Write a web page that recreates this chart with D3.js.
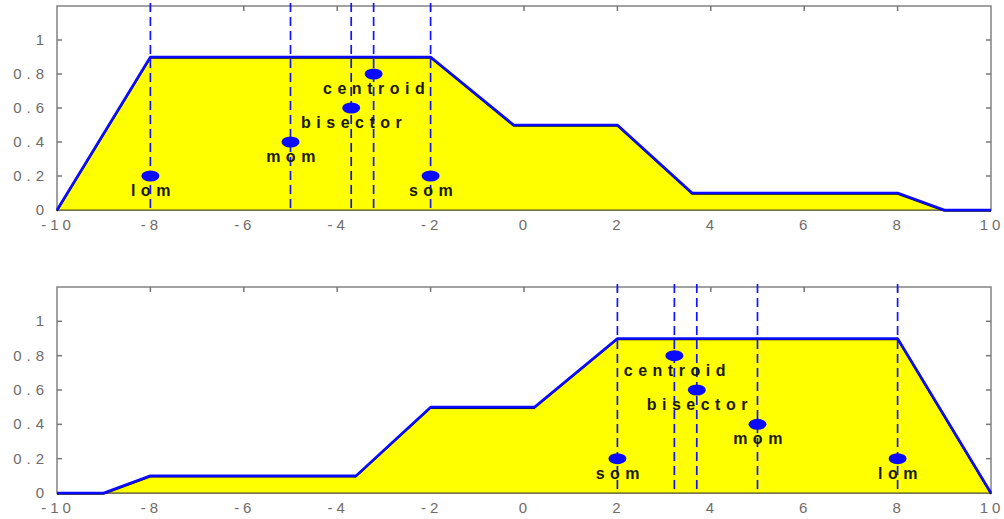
<!DOCTYPE html>
<html>
<head>
<meta charset="utf-8">
<script src="https://cdn.jsdelivr.net/npm/d3@7"></script>
<style>
  body { margin: 0; background: #fff; }
  svg { display: block; }
</style>
</head>
<body>
<div id="chart"></div>
<script>
// membership function (upper panel) and its mirror (lower panel)
const xTop = [-10, -8, -2, -0.22, 2, 3.6, 8, 9, 10];
const muTop = [0, 0.9, 0.9, 0.5, 0.5, 0.1, 0.1, 0, 0];
const xBottom = [-10, -9, -8, -3.6, -2, 0.22, 2, 8, 10];
const muBottom = [0, 0, 0.1, 0.1, 0.5, 0.5, 0.9, 0.9, 0];

// defuzzification results
const methods = ["centroid", "bisector", "mom", "som", "lom"];
const markerHeights = [0.8, 0.6, 0.4, 0.2, 0.2];
const defuzzTop = [-3.22, -3.7, -5, -2, -8];
const defuzzBottom = [3.22, 3.7, 5, 2, 8];

const xTicks = [-10, -8, -6, -4, -2, 0, 2, 4, 6, 8, 10];
const yTicks = [0, 0.2, 0.4, 0.6, 0.8, 1];

const width = 1004, height = 519;
const left = 57, right = 991;

const svg = d3.select("#chart").append("svg")
  .attr("width", width)
  .attr("height", height);

const panels = [
  { xs: xTop, mu: muTop, dz: defuzzTop, top: 6, bottom: 210 },
  { xs: xBottom, mu: muBottom, dz: defuzzBottom, top: 287, bottom: 493 }
];

const x = d3.scaleLinear().domain([-10, 10]).range([left, right]);
const tickFont = "Liberation Sans, Arial, sans-serif";

panels.forEach(p => {
  const y = d3.scaleLinear().domain([0, 1.2]).range([p.bottom, p.top]);
  const g = svg.append("g");
  const pts = p.xs.map((v, i) => [v, p.mu[i]]);

  // box and inside ticks
  g.append("rect")
    .attr("x", left).attr("y", p.top)
    .attr("width", right - left).attr("height", p.bottom - p.top)
    .attr("fill", "none")
    .attr("stroke", "#8a8a8a")
    .attr("stroke-width", 1.6);

  g.selectAll(null).data(xTicks.slice(1, -1)).enter().append("line")
    .attr("x1", d => x(d)).attr("x2", d => x(d))
    .attr("y1", p.top).attr("y2", p.top + 5)
    .attr("stroke", "#777").attr("stroke-width", 1.5);

  [left, right].forEach((sx, k) => {
    g.selectAll(null).data(yTicks.slice(1)).enter().append("line")
      .attr("x1", sx).attr("x2", k === 0 ? sx + 5 : sx - 5)
      .attr("y1", d => y(d)).attr("y2", d => y(d))
      .attr("stroke", "#777").attr("stroke-width", 1.5);
  });

  // filled area
  g.append("path")
    .datum(pts)
    .attr("d", d3.area().x(d => x(d[0])).y0(y(0)).y1(d => y(d[1])))
    .attr("fill", "#ffff00")
    .attr("stroke", "#4a4a20")
    .attr("stroke-width", 1.2);

  // dark edge under the blue curve
  g.append("path")
    .datum(pts)
    .attr("transform", "translate(0,1)")
    .attr("d", d3.line().x(d => x(d[0])).y(d => y(d[1])))
    .attr("fill", "none")
    .attr("stroke", "#111")
    .attr("stroke-width", 1.5);

  g.append("path")
    .datum(pts)
    .attr("d", d3.line().x(d => x(d[0])).y(d => y(d[1])))
    .attr("fill", "none")
    .attr("stroke", "#0a0aff")
    .attr("stroke-width", 2.6)
    .attr("stroke-linejoin", "round");

  // tick labels
  g.selectAll(null).data(xTicks).enter().append("text")
    .attr("x", d => x(d) + 1)
    .attr("y", p.bottom + 20)
    .attr("text-anchor", "middle")
    .attr("font-family", tickFont)
    .attr("font-size", 15)
    .attr("letter-spacing", 4)
    .attr("fill", "#706c68")
    .text(d => d);

  g.selectAll(null).data(yTicks).enter().append("text")
    .attr("x", 49)
    .attr("y", d => y(d) + 5)
    .attr("text-anchor", "end")
    .attr("font-family", tickFont)
    .attr("font-size", 15)
    .attr("letter-spacing", 5)
    .attr("fill", "#706c68")
    .text(d => d);

  // dashed lines at defuzzified values
  g.selectAll(null).data(p.dz).enter().append("line")
    .attr("x1", d => x(d)).attr("x2", d => x(d))
    .attr("y1", y(1.2) - 3).attr("y2", y(0))
    .attr("stroke", "#1414ff")
    .attr("stroke-width", 1.7)
    .attr("stroke-dasharray", "9,5");

  // markers and labels
  g.selectAll(null).data(p.dz).enter().append("ellipse")
    .attr("cx", d => x(d))
    .attr("cy", (d, i) => y(markerHeights[i]))
    .attr("rx", 9).attr("ry", 5.5)
    .attr("fill", "#0a0aff");

  g.selectAll(null).data(p.dz).enter().append("text")
    .attr("x", d => x(d) + 3)
    .attr("y", (d, i) => y(markerHeights[i]) + 20)
    .attr("text-anchor", "middle")
    .attr("font-family", tickFont)
    .attr("font-weight", "bold")
    .attr("font-size", 16)
    .attr("letter-spacing", 5.5)
    .attr("fill", "#1a1a00")
    .text((d, i) => methods[i]);
});
</script>
</body>
</html>
